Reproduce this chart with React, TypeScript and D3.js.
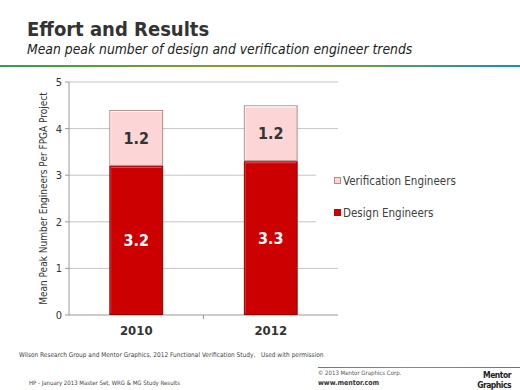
import React from "react";
import * as d3 from "d3";

const years = ["2010", "2012"];
const design = [3.2, 3.3];
const verification = [1.2, 1.2];
const yTicks = [0, 1, 2, 3, 4, 5];
const seriesNames = ["Verification Engineers", "Design Engineers"];

const W = 520;
const H = 390;
const font = "'DejaVu Sans Condensed', 'DejaVu Sans', sans-serif";

const App = () => {
  const rows = years.map((y, i) => ({ year: y, design: design[i], verification: verification[i] }));
  const stack = d3.stack<any>().keys(["design", "verification"])(rows);

  const x = d3.scaleBand().domain(years).range([69, 338]).paddingInner(0.6).paddingOuter(0.3);
  const y = d3.scaleLinear().domain([0, 5]).range([315, 82]);

  const fills: Record<string, string> = { design: "#cc0000", verification: "#fcd6d6" };
  const strokes: Record<string, string> = { design: "#8e0000", verification: "#b58a8a" };
  const lights: Record<string, string> = { design: "#ee4a4a", verification: "#ffffff" };
  const labelColor: Record<string, string> = { design: "#ffffff", verification: "#333333" };

  return (
    <svg width={W} height={H} style={{ position: "absolute", left: 0, top: 0, background: "#fff" }} fontFamily={font}>
      <defs>
        <linearGradient id="hdr" x1="0" x2="1" y1="0" y2="0">
          <stop offset="0" stopColor="#3c9a58" />
          <stop offset="0.45" stopColor="#8c9a2c" />
          <stop offset="0.7" stopColor="#6e9a4a" />
          <stop offset="1" stopColor="#1a8cc4" />
        </linearGradient>
      </defs>

      {/* header */}
      <text x={27} y={36} fontSize={20} fontWeight="bold" fill="#333">Effort and Results</text>
      <text x={27} y={54} fontSize={13.8} fontStyle="italic" fill="#222">
        Mean peak number of design and verification engineer trends
      </text>
      <rect x={0} y={65} width={W} height={2} fill="url(#hdr)" />

      {/* grid */}
      {yTicks.map((t) => (
        <g key={t}>
          {t > 0 && <line x1={69} x2={338} y1={y(t)} y2={y(t)} stroke="#c4c4c4" />}
          <line x1={65} x2={69} y1={y(t)} y2={y(t)} stroke="#999" />
          <text x={62} y={y(t) + 4} fontSize={11} textAnchor="end" fill="#333">{t}</text>
        </g>
      ))}
      <line x1={69} x2={69} y1={y(5)} y2={y(0)} stroke="#999" />
      <line x1={69} x2={338} y1={y(0)} y2={y(0)} stroke="#999" />
      {years.slice(1).map((yr) => {
        const bx = (x(yr) as number) - (x.step() * x.paddingInner()) / 2;
        return <line key={yr} x1={bx} x2={bx} y1={y(0)} y2={y(0) + 4} stroke="#999" />;
      })}
      {years.map((yr) => (
        <text key={yr} x={(x(yr) as number) + x.bandwidth() / 2} y={335} fontSize={13} fontWeight="bold" textAnchor="middle" fill="#333">
          {yr}
        </text>
      ))}

      <text transform={`translate(47,${(y(0) + y(5)) / 2}) rotate(-90)`} fontSize={10} textAnchor="middle" fill="#333">
        Mean Peak Number Engineers Per FPGA Project
      </text>

      {/* bars */}
      {stack.map((s) =>
        s.map((d, i) => {
          const bx = x(years[i]) as number;
          const bw = x.bandwidth();
          const y0 = y(d[1]);
          const h = y(d[0]) - y(d[1]);
          const key = s.key;
          return (
            <g key={key + i}>
              <rect x={bx + 0.5} y={y0 + 0.5} width={bw - 1} height={h - 1} fill={fills[key]} stroke={strokes[key]} />
              <line x1={bx + 1.5} x2={bx + bw - 1.5} y1={y0 + 1.5} y2={y0 + 1.5} stroke={lights[key]} />
              <line x1={bx + 1.5} x2={bx + 1.5} y1={y0 + 1.5} y2={y0 + h - 1.5} stroke={lights[key]} strokeOpacity={0.6} />
              <text x={bx + bw / 2} y={y0 + h / 2 + 6} fontSize={16} fontWeight="bold" textAnchor="middle" fill={labelColor[key]}>
                {(d[1] - d[0]).toFixed(1)}
              </text>
            </g>
          );
        })
      )}

      {/* legend */}
      <rect x={316} y={160} width={150} height={66} fill="#fff" />
      <rect x={334.5} y={177.5} width={6} height={6} fill={fills.verification} stroke={strokes.verification} />
      <text x={343} y={185} fontSize={11.5} fill="#404040">{seriesNames[0]}</text>
      <rect x={334} y={209} width={7} height={7} fill={fills.design} />
      <text x={343} y={217} fontSize={11.5} fill="#404040">{seriesNames[1]}</text>

      {/* footer */}
      <text x={19} y={357} fontSize={6.5} fill="#444">
        Wilson Research Group and Mentor Graphics, 2012 Functional Verification Study,{"\u00a0\u00a0\u00a0"}Used with permission
      </text>
      <text x={29} y={385} fontSize={6} fill="#444">HP - January 2013 Master Set, WRG &amp; MG Study Results</text>
      <rect x={318} y={367} width={202} height={1} fill="url(#hdr)" />
      <text x={318} y={375} fontSize={6} fill="#555">© 2013 Mentor Graphics Corp.</text>
      <text x={318} y={385} fontSize={7} fontWeight="bold" fill="#333">www.mentor.com</text>
      <text x={511} y={378} fontSize={8.5} fontWeight="bold" textAnchor="end" fill="#222" letterSpacing={-0.5}>Mentor</text>
      <text x={511} y={388} fontSize={8.5} fontWeight="bold" textAnchor="end" fill="#222" letterSpacing={-0.5}>Graphics</text>
    </svg>
  );
};

export default App;
